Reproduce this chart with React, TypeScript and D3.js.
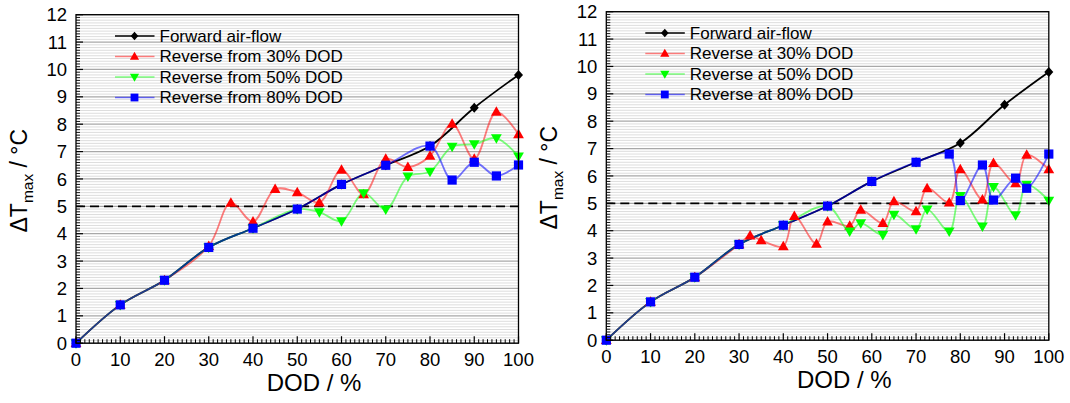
import React from "react";
import * as d3 from "d3";

const X_TICKS = [0, 10, 20, 30, 40, 50, 60, 70, 80, 90, 100];
const Y_TICKS = [0, 1, 2, 3, 4, 5, 6, 7, 8, 9, 10, 11, 12];
const THRESHOLD = 5;

const forwardX = [0, 10, 20, 30, 40, 50, 60, 70, 80, 90, 100];
const forwardY = [0, 1.4, 2.3, 3.5, 4.2, 4.9, 5.8, 6.5, 7.2, 8.6, 9.8];

// Left panel
const rev30L_X = [0, 10, 20, 30, 35, 40, 45, 50, 55, 60, 65, 70, 75, 80, 85, 90, 95, 100];
const rev30L_Y = [0, 1.4, 2.3, 3.55, 5.13, 4.44, 5.63, 5.51, 5.14, 6.33, 5.44, 6.73, 6.43, 6.84, 8.01, 6.73, 8.45, 7.63];
const rev50L_X = [0, 10, 20, 30, 40, 50, 55, 60, 65, 70, 75, 80, 85, 90, 95, 100];
const rev50L_Y = [0, 1.4, 2.3, 3.5, 4.2, 4.9, 4.79, 4.46, 5.48, 4.89, 6.09, 6.27, 7.18, 7.27, 7.49, 6.82];
const rev80L_X = [0, 10, 20, 30, 40, 50, 60, 70, 80, 85, 90, 95, 100];
const rev80L_Y = [0, 1.4, 2.3, 3.5, 4.2, 4.9, 5.8, 6.5, 7.2, 5.96, 6.61, 6.11, 6.51];

// Right panel
const rev30R_X = [0, 10, 20, 30, 32.5, 35, 40, 42.5, 47.5, 50, 55, 57.5, 62.5, 65, 70, 72.5, 77.5, 80, 85, 87.5, 92.5, 95, 100];
const rev30R_Y = [0, 1.4, 2.3, 3.5, 3.82, 3.65, 3.43, 4.53, 3.52, 4.33, 4.18, 4.76, 4.28, 5.07, 4.71, 5.55, 5.03, 6.24, 5.14, 6.47, 5.73, 6.77, 6.24];
const rev50R_X = [0, 10, 20, 30, 40, 50, 55, 57.5, 62.5, 65, 70, 72.5, 77.5, 80, 85, 87.5, 92.5, 95, 100];
const rev50R_Y = [0, 1.4, 2.3, 3.5, 4.2, 4.9, 3.97, 4.28, 3.85, 4.59, 4.06, 4.78, 3.97, 5.27, 4.16, 5.6, 4.57, 5.68, 5.1];
const rev80R_X = [0, 10, 20, 30, 40, 50, 60, 70, 77.5, 80, 85, 87.5, 92.5, 95, 100];
const rev80R_Y = [0, 1.4, 2.3, 3.5, 4.2, 4.9, 5.8, 6.5, 6.8, 5.1, 6.4, 5.12, 5.92, 5.55, 6.8];

const LEGEND_LEFT = ["Forward air-flow", "Reverse from 30% DOD", "Reverse from 50% DOD", "Reverse from 80% DOD"];
const LEGEND_RIGHT = ["Forward air-flow", "Reverse at 30% DOD", "Reverse at 50% DOD", "Reverse at 80% DOD"];

const FONT = "Liberation Sans, Arial, Helvetica, sans-serif";

type Series = { xs: number[]; ys: number[]; line: string; fill: string; marker: string };

function markerPath(kind: string, s = 1): string {
  const f = (v: number) => (v * s).toFixed(2);
  switch (kind) {
    case "diamond":
      return `M0,${f(-5)}L${f(4.5)},0L0,${f(5)}L${f(-4.5)},0Z`;
    case "up":
      return `M0,${f(-5.6)}L${f(5.4)},${f(3.9)}L${f(-5.4)},${f(3.9)}Z`;
    case "down":
      return `M0,${f(5.6)}L${f(5.4)},${f(-3.9)}L${f(-5.4)},${f(-3.9)}Z`;
    case "square":
    default:
      return `M${f(-4.6)},${f(-4.6)}H${f(4.6)}V${f(4.6)}H${f(-4.6)}Z`;
  }
}

function Panel({ ox, oy, series, legend }: { ox: number; oy: number; series: Series[]; legend: string[] }) {
  const W = 442.5;
  const H = 328.5;
  const x = d3.scaleLinear().domain([0, 100]).range([0, W]);
  const y = d3.scaleLinear().domain([0, 12]).range([H, 0]);
  const minorY = d3.range(0, 120).map((i) => i / 10).filter((v) => Math.abs(v - Math.round(v)) > 1e-6);
  const minorX = d3.range(0, 101).filter((v) => v % 10 !== 0);
  const line = d3
    .line<[number, number]>()
    .x((d) => x(d[0]))
    .y((d) => y(d[1]))
    .curve(d3.curveCatmullRom.alpha(0.5));

  return (
    <g transform={`translate(${ox},${oy})`}>
      <rect x={0} y={0} width={W} height={H} fill="#fff" />
      {minorY.map((v) => (
        <line key={"mg" + v} x1={0} x2={W} y1={y(v)} y2={y(v)} stroke="#d4d4d4" strokeWidth={0.8} />
      ))}
      {Y_TICKS.map((v) => (
        <line key={"g" + v} x1={0} x2={W} y1={y(v)} y2={y(v)} stroke="#a8a8a8" strokeWidth={1.3} />
      ))}
      <line x1={0} x2={W} y1={y(THRESHOLD)} y2={y(THRESHOLD)} stroke="#000" strokeWidth={1.6} strokeDasharray="9,5" />

      {/* legend */}
      {legend.map((t, i) => {
        const s = series[i];
        const by = 27.3 + 20.5 * i;
        return (
          <g key={"lg" + i}>
            <line x1={39} x2={78.5} y1={by - 6} y2={by - 6} stroke={s.line} strokeWidth={1.6} />
            <path d={markerPath(s.marker, 0.85)} transform={`translate(${58.5},${by - 6})`} fill={s.fill} />
            <text x={83.5} y={by} fontFamily={FONT} fontSize={17} fill="#000">
              {t}
            </text>
          </g>
        );
      })}

      {series.map((s, k) => (
        <path
          key={"l" + k}
          d={line(s.xs.map((v, i) => [v, s.ys[i]] as [number, number])) || ""}
          fill="none"
          stroke={s.line}
          strokeWidth={1.8}
        />
      ))}
      {series.map((s, k) => (
        <g key={"m" + k}>
          {s.xs.map((v, i) => (
            <path key={i} d={markerPath(s.marker)} transform={`translate(${x(v)},${y(s.ys[i])})`} fill={s.fill} />
          ))}
        </g>
      ))}

      {/* ticks */}
      {minorX.map((v) => (
        <line key={"tx" + v} x1={x(v)} x2={x(v)} y1={H} y2={H - 4} stroke="#000" strokeWidth={1} />
      ))}
      {X_TICKS.map((v) => (
        <line key={"TX" + v} x1={x(v)} x2={x(v)} y1={H} y2={H - 7} stroke="#000" strokeWidth={1.2} />
      ))}
      {minorY.map((v) => (
        <line key={"ty" + v} x1={0} x2={4} y1={y(v)} y2={y(v)} stroke="#000" strokeWidth={0.9} />
      ))}
      {Y_TICKS.map((v) => (
        <line key={"TY" + v} x1={0} x2={7} y1={y(v)} y2={y(v)} stroke="#000" strokeWidth={1.2} />
      ))}
      <rect x={0} y={0} width={W} height={H} fill="none" stroke="#000" strokeWidth={1.3} />

      {X_TICKS.map((v) => (
        <text key={"xl" + v} x={x(v)} y={H + 23} textAnchor="middle" fontFamily={FONT} fontSize={18.5} fill="#000">
          {v}
        </text>
      ))}
      {Y_TICKS.map((v) => (
        <text key={"yl" + v} x={-9} y={y(v) + 6.6} textAnchor="end" fontFamily={FONT} fontSize={18.5} fill="#000">
          {v}
        </text>
      ))}
      <text x={238} y={H + 48} textAnchor="middle" fontFamily={FONT} fontSize={24} fill="#000">
        DOD / %
      </text>
      <text
        transform={`translate(${-49},${166}) rotate(-90)`}
        textAnchor="middle"
        fontFamily={FONT}
        fontSize={23}
        fill="#000"
      >
        ΔT
        <tspan fontSize={15.5} dy={6}>max</tspan>
        <tspan dy={-6}> / °C</tspan>
      </text>
    </g>
  );
}

function mk(xs: number[], ys: number[], line: string, fill: string, marker: string): Series {
  return { xs, ys, line, fill, marker };
}

export default function App() {
  const leftSeries = [
    mk(forwardX, forwardY, "#000", "#000", "diamond"),
    mk(rev30L_X, rev30L_Y, "rgba(255,0,0,0.5)", "#ff0000", "up"),
    mk(rev50L_X, rev50L_Y, "rgba(0,255,0,0.5)", "#00ff00", "down"),
    mk(rev80L_X, rev80L_Y, "rgba(0,0,255,0.55)", "#0000ff", "square"),
  ];
  const rightSeries = [
    mk(forwardX, forwardY, "#000", "#000", "diamond"),
    mk(rev30R_X, rev30R_Y, "rgba(255,0,0,0.5)", "#ff0000", "up"),
    mk(rev50R_X, rev50R_Y, "rgba(0,255,0,0.5)", "#00ff00", "down"),
    mk(rev80R_X, rev80R_Y, "rgba(0,0,255,0.55)", "#0000ff", "square"),
  ];
  return (
    <svg
      width={1070}
      height={403}
      style={{ position: "absolute", left: 0, top: 0, display: "block", background: "#fff" }}
    >
      <rect x={0} y={0} width={1070} height={403} fill="#fff" />
      <Panel ox={76} oy={14.7} series={leftSeries} legend={LEGEND_LEFT} />
      <Panel ox={606.3} oy={11.7} series={rightSeries} legend={LEGEND_RIGHT} />
    </svg>
  );
}
